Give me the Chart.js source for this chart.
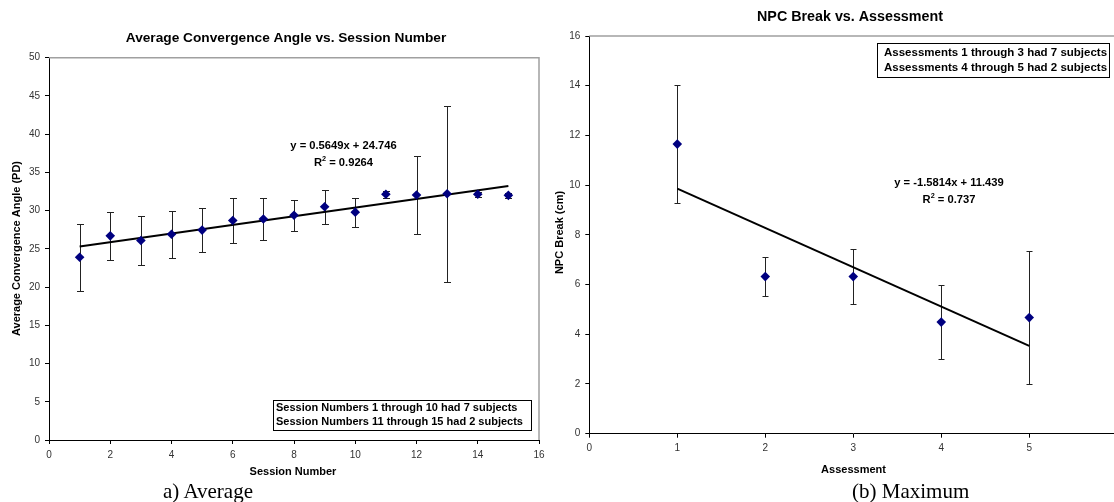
<!DOCTYPE html>
<html><head><meta charset="utf-8">
<script src="https://cdn.jsdelivr.net/npm/chart.js@4"></script>
<style>
html,body{margin:0;padding:0;background:#fff;overflow:hidden;width:1114px;height:502px;position:relative;}
#a{position:absolute;left:0;top:0;}
#b{position:absolute;left:550px;top:0;}
.cap{position:absolute;font-family:"Liberation Serif","Times New Roman",serif;font-size:21px;line-height:24px;color:#000;white-space:nowrap;}
</style></head><body>
<canvas id="a" width="550" height="480"></canvas>
<canvas id="b" width="575" height="480"></canvas>
<div class="cap" style="left:163px;top:479px">a) Average</div>
<div class="cap" style="left:852px;top:479px">(b) Maximum</div>
<script>
// ---- data: chart (a) ----
const sessions   = [1,2,3,4,5,6,7,8,9,10,11,12,13,14,15];
const angleMeans = [23.9,26.7,26.1,26.9,27.45,28.7,28.9,29.4,30.5,29.8,32.15,32.05,32.2,32.15,32.0];
const angleErrs  = [4.4,3.1,3.2,3.1,2.9,3.0,2.7,2.05,2.2,1.9,0.48,5.1,11.5,0.35,0.3];
const angleTrendX = [1,15];
const angleTrendY = [25.31,33.22];
const angleXTicks = [0,2,4,6,8,10,12,14,16];
const angleYTicks = [0,5,10,15,20,25,30,35,40,45,50];
// ---- data: chart (b) ----
const assessments = [1,2,3,4,5];
const npcMeans    = [11.65,6.32,6.32,4.49,4.67];
const npcErrs     = [2.38,0.77,1.1,1.5,2.68];
const npcTrendX   = [1,5];
const npcTrendY   = [9.86,3.53];
const npcXTicks   = [0,1,2,3,4,5,6];
const npcYTicks   = [0,2,4,6,8,10,12,14,16];

const FONT = '"Liberation Sans", Arial, sans-serif';

function drawR2(ctx, cx, cy, val, size){
  const big = 'bold ' + size + 'px ' + FONT, small = 'bold ' + (size*0.65) + 'px ' + FONT;
  ctx.font = big;
  const wR = ctx.measureText('R').width;
  const rest = ' = ' + val;
  const wRest = ctx.measureText(rest).width;
  ctx.font = small;
  const w2 = ctx.measureText('2').width;
  const total = wR + w2 + wRest;
  let x = cx - total/2;
  ctx.textAlign = 'left'; ctx.textBaseline = 'middle';
  ctx.font = big; ctx.fillText('R', x, cy); x += wR;
  ctx.font = small; ctx.fillText('2', x, cy - 4); x += w2;
  ctx.font = big; ctx.fillText(rest, x, cy);
}

const deco = {
  id: 'deco',
  beforeDatasetsDraw(chart, args, o){
    const {ctx, scales:{x, y}} = chart;
    ctx.save();
    ctx.strokeStyle = '#222'; ctx.lineWidth = 1;
    o.ex.forEach((xv, i) => {
      const px = Math.round(x.getPixelForValue(xv)) + 0.5;
      const t = Math.round(y.getPixelForValue(o.ey[i] + o.ee[i])) + 0.5;
      const b = Math.round(y.getPixelForValue(o.ey[i] - o.ee[i])) + 0.5;
      ctx.beginPath();
      ctx.moveTo(px, t); ctx.lineTo(px, b);
      ctx.moveTo(px - o.cap, t); ctx.lineTo(px + o.cap, t);
      ctx.moveTo(px - o.cap, b); ctx.lineTo(px + o.cap, b);
      ctx.stroke();
    });
    ctx.restore();
  },
  afterDraw(chart, args, o){
    const {ctx, chartArea:a} = chart;
    ctx.save();
    ctx.strokeStyle = '#a0a0a0'; ctx.lineWidth = 1.5;
    ctx.beginPath();
    ctx.moveTo(a.left, a.top); ctx.lineTo(a.right, a.top); ctx.lineTo(a.right, a.bottom);
    ctx.stroke();
    ctx.fillStyle = '#000';
    ctx.font = 'bold ' + o.titleSize + 'px ' + FONT; ctx.textAlign = 'center'; ctx.textBaseline = 'middle';
    ctx.fillText(o.title, o.titleX, o.titleY);
    ctx.font = 'bold 11px ' + FONT;
    ctx.fillText(o.xTitle, o.xTitleX, o.xTitleY);
    ctx.save(); ctx.translate(o.yTitleX, o.yTitleY); ctx.rotate(-Math.PI/2);
    ctx.fillText(o.yTitle, 0, 0); ctx.restore();
    ctx.font = 'bold 11.2px ' + FONT; ctx.textAlign = 'center';
    ctx.fillText(o.eq, o.eqX, o.eqY);
    drawR2(ctx, o.eqX, o.eqY + 16.5, o.r2, 11.2);
    const bx = o.box;
    ctx.fillStyle = '#fff'; ctx.fillRect(bx[0], bx[1], bx[2], bx[3]);
    ctx.strokeStyle = '#000'; ctx.lineWidth = 1;
    ctx.strokeRect(bx[0] + 0.5, bx[1] + 0.5, bx[2], bx[3]);
    ctx.fillStyle = '#000';
    ctx.font = 'bold ' + o.noteSize + 'px ' + FONT; ctx.textAlign = 'left'; ctx.textBaseline = 'middle';
    o.notes.forEach((t, i) => ctx.fillText(t, bx[0] + o.noteDx, bx[1] + o.noteDy + i * o.noteGap));
    ctx.restore();
  }
};

function makeChart(id, xs, ys, errs, tx, ty, xmin, xmax, xstep, ymin, ymax, ystep, layout, deco_opts){
  return new Chart(document.getElementById(id), {
    type: 'scatter',
    data: {
      datasets: [
        { data: xs.map((v, i) => ({x: v, y: ys[i]})), pointStyle: 'rectRot', pointRadius: 4.8,
          backgroundColor: '#000080', borderColor: '#000080', borderWidth: 0, showLine: false },
        { data: tx.map((v, i) => ({x: v, y: ty[i]})), showLine: true, borderColor: '#000',
          borderWidth: 2, pointRadius: 0 }
      ]
    },
    options: {
      responsive: false, animation: false, events: [],
      layout: { padding: layout.padding },
      plugins: { legend: {display: false}, tooltip: {enabled: false}, deco: deco_opts },
      scales: {
        x: { type: 'linear', min: xmin, max: xmax,
             afterFit: s => { s.height = layout.xh; },
             ticks: { stepSize: xstep, color: '#333', font: {family: FONT, size: 10}, padding: 5, maxRotation: 0 },
             grid: { drawOnChartArea: false, drawTicks: true, tickLength: 4, color: '#000' },
             border: { display: true, color: '#000', width: 1 } },
        y: { type: 'linear', min: ymin, max: ymax,
             afterFit: s => { s.width = layout.yw; },
             ticks: { stepSize: ystep, color: '#333', font: {family: FONT, size: 10}, padding: 5 },
             grid: { drawOnChartArea: false, drawTicks: true, tickLength: 4, color: '#000' },
             border: { display: true, color: '#000', width: 1 } }
      }
    },
    plugins: [deco]
  });
}

makeChart('a', sessions, angleMeans, angleErrs, angleTrendX, angleTrendY,
  angleXTicks[0], angleXTicks[angleXTicks.length-1], 2,
  angleYTicks[0], angleYTicks[angleYTicks.length-1], 5,
  { padding: {top: 57.7, right: 11, left: 0, bottom: 0}, xh: 40, yw: 49 },
  { ex: sessions, ey: angleMeans, ee: angleErrs, cap: 3.5,
    title: 'Average Convergence Angle vs. Session Number', titleSize: 13.7, titleX: 286, titleY: 38,
    xTitle: 'Session Number', xTitleX: 293, xTitleY: 472,
    yTitle: 'Average Convergence Angle (PD)', yTitleX: 16.5, yTitleY: 248.5,
    eq: 'y = 0.5649x + 24.746', r2: '0.9264', eqX: 343.5, eqY: 146,
    box: [273, 400, 258, 30], notes: ['Session Numbers 1 through 10 had 7 subjects', 'Session Numbers 11 through 15 had 2 subjects'],
    noteSize: 11, noteDx: 3, noteDy: 7.5, noteGap: 14.3 });

makeChart('b', assessments, npcMeans, npcErrs, npcTrendX, npcTrendY,
  npcXTicks[0], npcXTicks[npcXTicks.length-1], 1,
  npcYTicks[0], npcYTicks[npcYTicks.length-1], 2,
  { padding: {top: 36, right: 6, left: 0, bottom: 0}, xh: 46.3, yw: 39.3 },
  { ex: assessments, ey: npcMeans, ee: npcErrs, cap: 3,
    title: 'NPC Break vs. Assessment', titleSize: 14.3, titleX: 300, titleY: 17,
    xTitle: 'Assessment', xTitleX: 303.5, xTitleY: 470,
    yTitle: 'NPC Break (cm)', yTitleX: 10, yTitleY: 232.5,
    eq: 'y = -1.5814x + 11.439', r2: '0.737', eqX: 399, eqY: 183,
    box: [327, 43, 232, 34], notes: ['Assessments 1 through 3 had 7 subjects', 'Assessments 4 through 5 had 2 subjects'],
    noteSize: 11.5, noteDx: 7, noteDy: 10.3, noteGap: 14.4 });
</script>
</body></html>
